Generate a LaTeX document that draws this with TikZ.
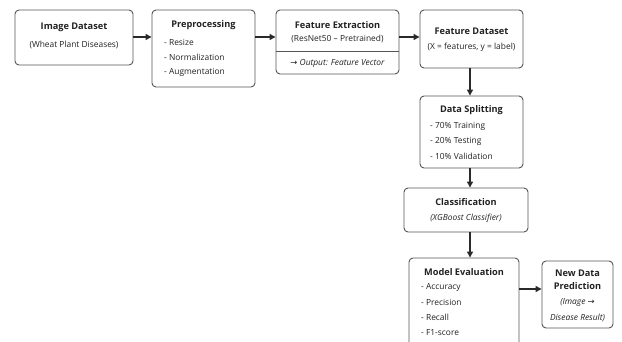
\documentclass[tikz,border=0pt]{standalone}
\usepackage{fontspec}
\setmainfont{Open Sans}
\newfontfamily\symfont{DejaVu Sans}
\newcommand{\rarr}{{\symfont →}}
\usetikzlibrary{arrows.meta,calc}
\definecolor{boxline}{HTML}{555555}
\definecolor{ink}{HTML}{222222}
\definecolor{wire}{HTML}{2A2A2A}
\tikzset{
  box/.style={draw=boxline, line width=0.9pt, rounded corners=4pt, fill=white, inner sep=0pt},
  ttl/.style={font=\fontsize{9.2}{11}\selectfont\bfseries, text=ink, inner sep=0pt, anchor=center},
  txt/.style={font=\fontsize{8.4}{10}\selectfont, text=ink, inner sep=0pt},
  itx/.style={font=\fontsize{8.4}{10}\selectfont\itshape, text=ink, inner sep=0pt},
  itm/.style={txt, anchor=west},
  flow/.style={draw=wire, line width=1.3pt, -{Triangle[length=6pt,width=6pt]}},
}
\begin{document}
\begin{tikzpicture}[x=1pt,y=-1pt]
\useasboundingbox (0,0) rectangle (622,342);
\fill[white] (0,0) rectangle (622,342);

% boxes
\node[box, minimum width=118pt, minimum height=55pt] (img) at (74,37.5) {};
\node[box, minimum width=103pt, minimum height=77pt] (pre) at (203.5,48.5) {};
\node[box, minimum width=123pt, minimum height=64pt] (fex) at (337.5,42) {};
\node[box, minimum width=103pt, minimum height=58pt] (fds) at (471.5,39) {};
\node[box, minimum width=103pt, minimum height=72pt] (spl) at (471.5,132) {};
\node[box, minimum width=124pt, minimum height=44pt] (cls) at (466,210) {};
\node[box, minimum width=110pt, minimum height=100pt] (evl) at (464,308) {};
\node[box, minimum width=71pt, minimum height=67pt] (new) at (577.5,294.5) {};
\draw[boxline, line width=0.9pt] (fex.west |- 0,51) -- (fex.east |- 0,51);

% texts
\node[ttl] (img-t) at (74,27) {Image Dataset};
\node[txt] (img-s) at (74,45) {(Wheat Plant Diseases)};

\node[ttl] (pre-t) at (203.5,25) {Preprocessing};
\node[itm] (pre-a) at (164,42) {- Resize};
\node[itm] (pre-b) at (164,57) {- Normalization};
\node[itm] (pre-c) at (164,72) {- Augmentation};

\node[ttl] (fex-t) at (337.5,25) {Feature Extraction};
\node[txt] (fex-s) at (337.5,39) {(ResNet50 – Pretrained)};
\node[txt] (fex-o) at (337.5,63) {\rarr\ \itshape Output: Feature Vector};

\node[ttl] (fds-t) at (471.5,31) {Feature Dataset};
\node[txt] (fds-s) at (471.5,47) {(X = features, y = label)};

\node[ttl] (spl-t) at (471.5,110) {Data Splitting};
\node[itm] (spl-a) at (430,126) {- 70\% Training};
\node[itm] (spl-b) at (430,141) {- 20\% Testing};
\node[itm] (spl-c) at (430,156) {- 10\% Validation};

\node[ttl] (cls-t) at (466,202) {Classification};
\node[itx] (cls-s) at (466,218) {(XGBoost Classifier)};

\node[ttl] (evl-t) at (464,272) {Model Evaluation};
\node[itm] (evl-a) at (421,287.5) {- Accuracy};
\node[itm] (evl-b) at (421,302.5) {- Precision};
\node[itm] (evl-c) at (421,317.5) {- Recall};
\node[itm] (evl-d) at (421,332.5) {- F1-score};

\node[ttl] (new-t1) at (577.5,273) {New Data};
\node[ttl] (new-t2) at (577.5,286.5) {Prediction};
\node[itx] (new-s1) at (577.5,302.5) {(Image \upshape\rarr};
\node[itx] (new-s2) at (577.5,318) {Disease Result)};

% connectors
\coordinate (row) at (0,37);
\draw[flow] (img.east |- row) -- (pre.west |- row);
\draw[flow] (pre.east |- row) -- (fex.west |- row);
\draw[flow] (fex.east |- row) -- (fds.west |- row);
\coordinate (col) at (470,0);
\draw[flow] (fds.south -| col) -- (spl.north -| col);
\draw[flow] (spl.south -| col) -- (cls.north -| col);
\draw[flow] (cls.south -| col) -- (evl.north -| col);
\coordinate (low) at (0,289);
\draw[flow] (evl.east |- low) -- (new.west |- low);
\end{tikzpicture}
\end{document}
